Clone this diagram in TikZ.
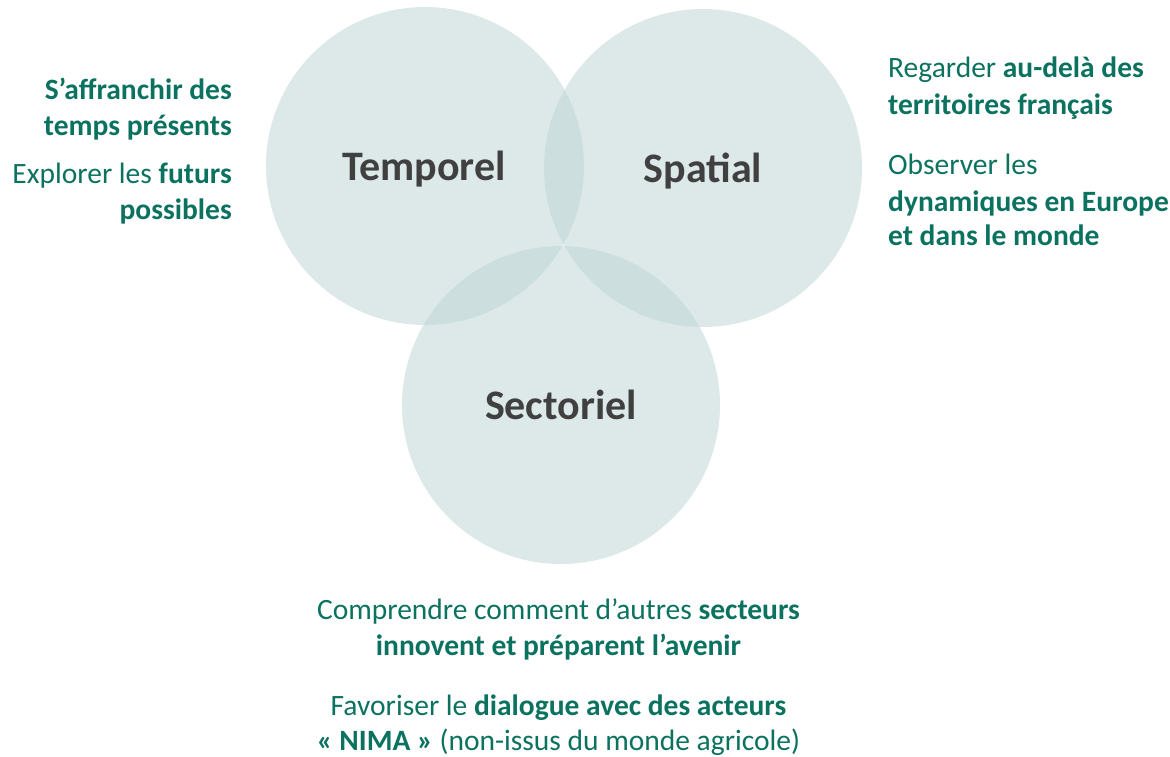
\documentclass[tikz,border=0pt]{standalone}
\usepackage{fontspec}
\setmainfont{Carlito}
\definecolor{txtgreen}{RGB}{12,114,96}
\definecolor{lbl}{RGB}{64,64,64}
\definecolor{circ}{RGB}{191,215,213}
\begin{document}
\begin{tikzpicture}[x=1pt,y=-1pt,
  venn/.style={fill=circ,fill opacity=0.55,draw=none},
  big/.style={font=\fontsize{42}{50}\selectfont\bfseries,text=lbl,inner sep=0pt,anchor=base},
  sidel/.style={font=\fontsize{29.5}{34}\selectfont,text=txtgreen,inner sep=0pt,anchor=base east},
  sider/.style={font=\fontsize{29.5}{34}\selectfont,text=txtgreen,inner sep=0pt,anchor=base west},
  sidec/.style={font=\fontsize{29.5}{34}\selectfont,text=txtgreen,inner sep=0pt,anchor=base}]
\useasboundingbox (0,0) rectangle (1170,756);
\fill[venn] (425,166) circle (159);
\fill[venn] (703,168) circle (159);
\fill[venn] (561,405) circle (159);
\node[big] (temp) at (424,180) {Temporel};
\node[big] (spat) at (703,182) {Spatial};
\node[big] (sect) at (561,419) {Sectoriel};
% left
\node[sidel] (l1) at (232,99) {\textbf{S’affranchir des}};
\node[sidel] (l2) at (232,135) {\textbf{temps présents}};
\node[sidel] (l3) at (232,183) {Explorer les \textbf{futurs}};
\node[sidel] (l4) at (232,219) {\textbf{possibles}};
% right
\node[sider] (r1) at (888,77) {Regarder \textbf{au-delà des}};
\node[sider] (r2) at (888,114) {\textbf{territoires français}};
\node[sider] (r3) at (888,174) {Observer les};
\node[sider] (r4) at (888,211) {\textbf{dynamiques en Europe}};
\node[sider] (r5) at (888,245) {\textbf{et dans le monde}};
% bottom
\node[sidec] (b1) at (558.5,619) {Comprendre comment d’autres \textbf{secteurs}};
\node[sidec] (b2) at (558.5,655) {\textbf{innovent et préparent l’avenir}};
\node[sidec] (b3) at (558.5,715) {Favoriser le \textbf{dialogue avec des acteurs}};
\node[sidec] (b4) at (558.5,750) {\textbf{« NIMA »} (non-issus du monde agricole)};
\end{tikzpicture}
\end{document}
